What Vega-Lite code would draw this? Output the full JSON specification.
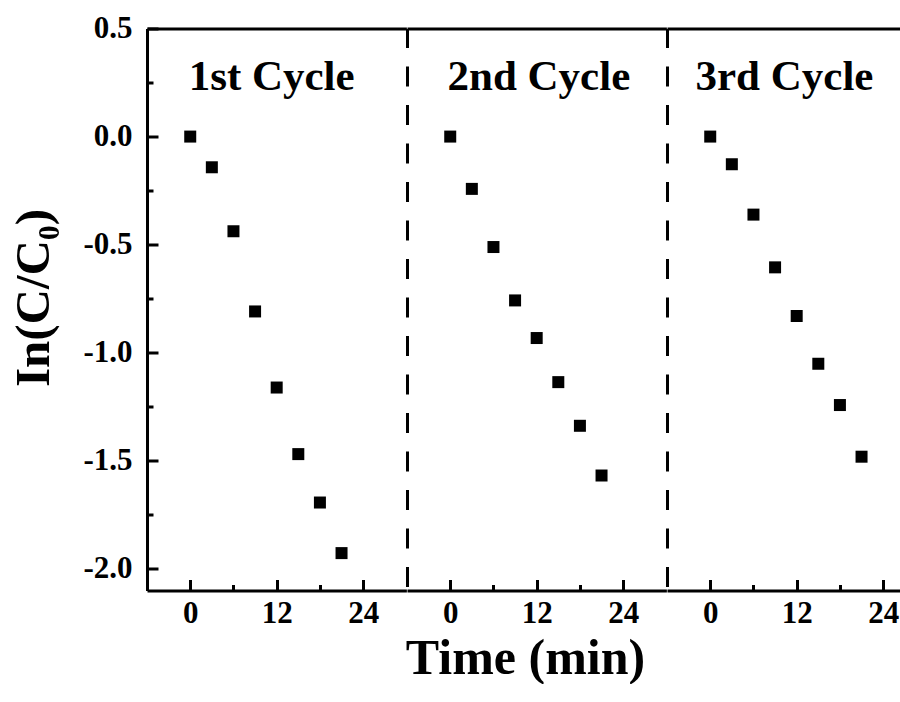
{
  "$schema": "https://vega.github.io/schema/vega-lite/v6.json",
  "autosize": {"type": "pad"},
  "padding": {"left": 9, "top": 12.5, "right": 0, "bottom": 0},
  "background": "white",
  "spacing": 0,
  "bounds": "flush",
  "config": {
    "view": {"stroke": null},
    "axis": {
      "domainColor": "#000", "domainWidth": 3, "tickColor": "#000", "tickWidth": 3,
      "labelFont": "Liberation Serif", "labelFontWeight": "bold", "labelFontSize": 31, "labelColor": "#000",
      "titleFont": "Liberation Serif", "titleFontWeight": "bold", "titleColor": "#000", "grid": false
    }
  },
  "datasets": {
    "points": [
      {"cycle": 1, "time": 0, "lnC": 0},
      {"cycle": 1, "time": 3, "lnC": -0.142},
      {"cycle": 1, "time": 6, "lnC": -0.438},
      {"cycle": 1, "time": 9, "lnC": -0.809},
      {"cycle": 1, "time": 12, "lnC": -1.161},
      {"cycle": 1, "time": 15, "lnC": -1.469},
      {"cycle": 1, "time": 18, "lnC": -1.693},
      {"cycle": 1, "time": 21, "lnC": -1.927},
      {"cycle": 2, "time": 0, "lnC": 0},
      {"cycle": 2, "time": 3, "lnC": -0.242},
      {"cycle": 2, "time": 6, "lnC": -0.511},
      {"cycle": 2, "time": 9, "lnC": -0.758},
      {"cycle": 2, "time": 12, "lnC": -0.932},
      {"cycle": 2, "time": 15, "lnC": -1.136},
      {"cycle": 2, "time": 18, "lnC": -1.338},
      {"cycle": 2, "time": 21, "lnC": -1.568},
      {"cycle": 3, "time": 0, "lnC": 0},
      {"cycle": 3, "time": 3, "lnC": -0.128},
      {"cycle": 3, "time": 6, "lnC": -0.361},
      {"cycle": 3, "time": 9, "lnC": -0.605},
      {"cycle": 3, "time": 12, "lnC": -0.830},
      {"cycle": 3, "time": 15, "lnC": -1.051},
      {"cycle": 3, "time": 18, "lnC": -1.242},
      {"cycle": 3, "time": 21, "lnC": -1.481}
    ],
    "labels": [
      {"cycle": 1, "label": "1st Cycle"},
      {"cycle": 2, "label": "2nd Cycle"},
      {"cycle": 3, "label": "3rd Cycle"}
    ]
  },
  "hconcat": [
    {
      "width": 259.38, "height": 562,
      "layer": [
        {
          "data": {"name": "points"},
          "transform": [{"filter": "datum.cycle == 1"}],
          "mark": {"type": "point", "shape": "square", "filled": true, "size": 144, "color": "#000", "opacity": 1, "strokeWidth": 0},
          "encoding": {
            "x": {"field": "time", "type": "quantitative", "scale": {"domain": [-6, 30], "nice": false, "zero": false},
              "axis": {"orient": "bottom", "values": [0, 6, 12, 18, 24], "title": null, "labelPadding": 19,
                "labelExpr": "datum.value % 12 === 0 ? datum.label : ''",
                "tickSize": {"condition": {"test": "datum.value % 12 === 0", "value": -11}, "value": -6}}},
            "y": {"field": "lnC", "type": "quantitative", "scale": {"domain": [-2.1, 0.5], "nice": false, "zero": false},
              "axis": {"orient": "left", "values": [0.5, 0.25, 0, -0.25, -0.5, -0.75, -1, -1.25, -1.5, -1.75, -2],
                "labelPadding": 26,
                "labelExpr": "abs(datum.value*2 - round(datum.value*2)) < 0.001 ? replace(format(datum.value, '.1f'), '\u2212', '-') : ''",
                "tickSize": {"condition": {"test": "abs(datum.value*2 - round(datum.value*2)) < 0.001", "value": -11}, "value": -6},
                "title": "In(C/C\u2080)", "titleFontSize": 49, "titleX": -89, "titleY": 269, "titleBaseline": "bottom", "titleAngle": -90}}
          }
        },
        {
          "data": {"name": "labels"},
          "transform": [{"filter": "datum.cycle == 1"}],
          "mark": {"type": "text", "font": "Liberation Serif", "fontWeight": "bold", "fontSize": 43, "baseline": "alphabetic", "align": "center", "color": "#000"},
          "encoding": {
            "text": {"field": "label"},
            "x": {"datum": 11.3, "type": "quantitative", "axis": {"orient": "top", "labels": false, "ticks": false, "title": null}},
            "y": {"datum": 0.2176, "type": "quantitative"}
          }
        }
      ],
      "resolve": {"axis": {"x": "independent"}}
    },
    {
      "width": 259.38, "height": 562,
      "layer": [
        {
          "data": {"name": "points"},
          "transform": [{"filter": "datum.cycle == 2"}],
          "mark": {"type": "point", "shape": "square", "filled": true, "size": 144, "color": "#000", "opacity": 1, "strokeWidth": 0},
          "encoding": {
            "x": {"field": "time", "type": "quantitative", "scale": {"domain": [-6, 30], "nice": false, "zero": false},
              "axis": {"orient": "bottom", "values": [0, 6, 12, 18, 24], "labelPadding": 19,
                "labelExpr": "datum.value % 12 === 0 ? datum.label : ''",
                "tickSize": {"condition": {"test": "datum.value % 12 === 0", "value": -11}, "value": -6},
                "title": "Time (min)", "titleFontSize": 50, "titleX": 118, "titleY": 83, "titleBaseline": "alphabetic"}},
            "y": {"field": "lnC", "type": "quantitative", "scale": {"domain": [-2.1, 0.5], "nice": false, "zero": false},
              "axis": {"orient": "left", "labels": false, "ticks": false, "title": null, "domainDash": [20, 18.5], "domainDashOffset": 34.5}}
          }
        },
        {
          "data": {"name": "labels"},
          "transform": [{"filter": "datum.cycle == 2"}],
          "mark": {"type": "text", "font": "Liberation Serif", "fontWeight": "bold", "fontSize": 43, "baseline": "alphabetic", "align": "center", "color": "#000"},
          "encoding": {
            "text": {"field": "label"},
            "x": {"datum": 12.3, "type": "quantitative", "axis": {"orient": "top", "labels": false, "ticks": false, "title": null}},
            "y": {"datum": 0.2176, "type": "quantitative"}
          }
        }
      ],
      "resolve": {"axis": {"x": "independent"}}
    },
    {
      "width": 234.24, "height": 562,
      "layer": [
        {
          "data": {"name": "points"},
          "transform": [{"filter": "datum.cycle == 3"}],
          "mark": {"type": "point", "shape": "square", "filled": true, "size": 144, "color": "#000", "opacity": 1, "strokeWidth": 0},
          "encoding": {
            "x": {"field": "time", "type": "quantitative", "scale": {"domain": [-6, 26.51], "nice": false, "zero": false},
              "axis": {"orient": "bottom", "values": [0, 6, 12, 18, 24], "title": null, "labelPadding": 19,
                "labelExpr": "datum.value % 12 === 0 ? datum.label : ''",
                "tickSize": {"condition": {"test": "datum.value % 12 === 0", "value": -11}, "value": -6}}},
            "y": {"field": "lnC", "type": "quantitative", "scale": {"domain": [-2.1, 0.5], "nice": false, "zero": false},
              "axis": {"orient": "left", "labels": false, "ticks": false, "title": null, "domainDash": [20, 18.5], "domainDashOffset": 34.5}}
          }
        },
        {
          "data": {"name": "labels"},
          "transform": [{"filter": "datum.cycle == 3"}],
          "mark": {"type": "text", "font": "Liberation Serif", "fontWeight": "bold", "fontSize": 43, "baseline": "alphabetic", "align": "center", "color": "#000"},
          "encoding": {
            "text": {"field": "label"},
            "x": {"datum": 10.3, "type": "quantitative", "axis": {"orient": "top", "labels": false, "ticks": false, "title": null}},
            "y": {"datum": 0.2176, "type": "quantitative"}
          }
        }
      ],
      "resolve": {"axis": {"x": "independent"}}
    }
  ]
}
